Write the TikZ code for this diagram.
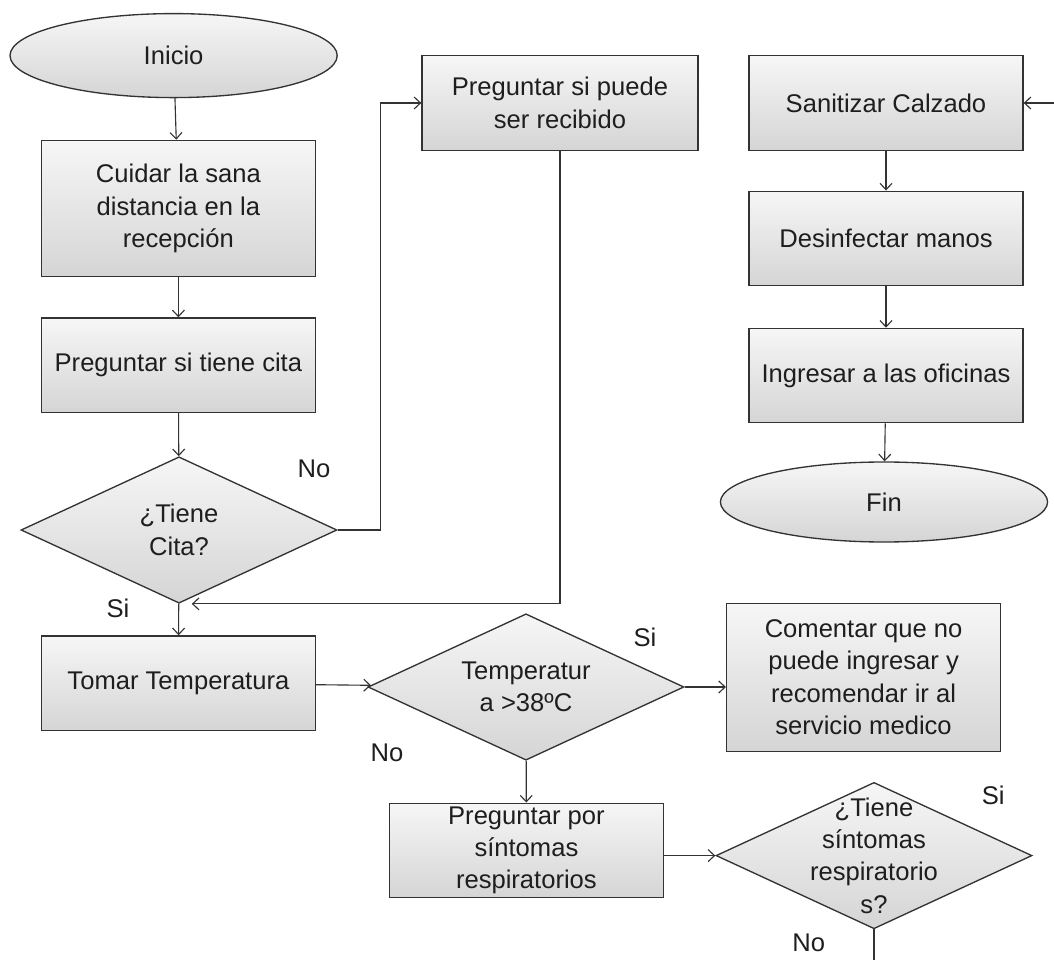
\documentclass[tikz,border=0pt]{standalone}
\usepackage{fontspec}
\setmainfont{Liberation Sans}
\usepackage{xcolor}
\usepackage{tikz}
\usetikzlibrary{arrows.meta,shapes}

\definecolor{edge}{HTML}{333333}
\definecolor{ink}{HTML}{1E1E1E}

\begin{document}
\begin{tikzpicture}[
    font=\fontsize{18.2}{23}\selectfont\color{ink},
    proc/.style={draw=edge, line width=0.95pt, top color=gray!7, bottom color=gray!33, align=center, minimum width=6.85cm, minimum height=2.36cm, inner sep=2pt},
    term/.style={ellipse, draw=edge, line width=0.95pt, top color=gray!7, bottom color=gray!33, minimum width=8.18cm, minimum height=2.1cm},
    dec/.style={diamond, draw=edge, line width=0.95pt, top color=gray!7, bottom color=gray!33, minimum width=7.9cm, minimum height=3.66cm, inner sep=0pt},
    lbl/.style={font=\fontsize{18.2}{23}\selectfont\color{ink}},
    arrow/.style={-{Straight Barb[length=1.6mm,width=3mm]}, line width=0.8pt, draw=edge}
]
\useasboundingbox (0,0) rectangle (26.35,-24);

% left column
\node[term] (inicio) at (4.34,-1.39) {Inicio};
\node[proc, minimum height=3.4cm] (cuidar) at (4.46,-5.21) {Cuidar la sana\\distancia en la\\recepción};
\node[proc] (tienecitap) at (4.46,-9.13) {Preguntar si tiene cita};
\node[dec, label={[align=center]center:{¿Tiene\\Cita?}}] (tienecita) at (4.475,-13.25) {};
\node[proc] (tomar) at (4.46,-17.08) {Tomar Temperatura};

% middle
\node[proc, minimum width=6.9cm] (recibido) at (14.0,-2.575) {Preguntar si puede\\ser recibido};
\node[dec, label={[align=center]center:{Temperatur\\a >38ºC}}] (tempq) at (13.15,-17.175) {};
\node[proc] (pregsint) at (13.16,-21.26) {Preguntar por\\síntomas\\respiratorios};

% right column
\node[proc] (sanitizar) at (22.15,-2.575) {Sanitizar Calzado};
\node[proc] (desinfectar) at (22.15,-5.96) {Desinfectar manos};
\node[proc] (ingresar) at (22.15,-9.39) {Ingresar a las oficinas};
\node[term, minimum height=2cm] (fin) at (22.1,-12.55) {Fin};
\node[proc, minimum height=3.7cm] (comentar) at (21.59,-16.93) {Comentar que no\\puede ingresar y\\recomendar ir al\\servicio medico};
\node[dec, label={[align=center]center:{¿Tiene\\síntomas\\respiratorio\\s?}}] (sintq) at (21.85,-21.39) {};

% answers
\node[lbl] (nocita) at (7.85,-11.72) {No};
\node[lbl] (sicita) at (2.95,-15.2) {Si};
\node[lbl] (sitemp) at (16.125,-15.93) {Si};
\node[lbl] (notemp) at (9.675,-18.83) {No};
\node[lbl] (sisint) at (24.83,-19.88) {Si};
\node[lbl] (nosint) at (20.22,-23.58) {No};

\coordinate (fromsi) at (26.35,-2.575);
\coordinate (nodown) at (21.85,-24);

\draw[arrow] (inicio) -- (cuidar);
\draw[arrow] (cuidar) -- (tienecitap);
\draw[arrow] (tienecitap) -- (tienecita);
\draw[arrow] (tienecita.east) -- ++(1.07,0) |- (recibido.west);
\draw[arrow, shorten >=0.32cm] (recibido.south) |- (tienecita.south);
\draw[arrow] (tienecita) -- (tomar);
\draw[arrow] (tomar) -- (tempq);
\draw[arrow] (tempq.east) -- (comentar.west |- tempq.east);
\draw[arrow] (tempq) -- (pregsint);
\draw[arrow] (pregsint.east |- sintq.west) -- (sintq.west);
\draw[line width=0.8pt, draw=edge] (sintq.south) -- (nodown);

\draw[arrow] (fromsi) -- (sanitizar.east);
\draw[arrow] (sanitizar) -- (desinfectar);
\draw[arrow] (desinfectar) -- (ingresar);
\draw[arrow] (ingresar) -- (fin);

\end{tikzpicture}
\end{document}
